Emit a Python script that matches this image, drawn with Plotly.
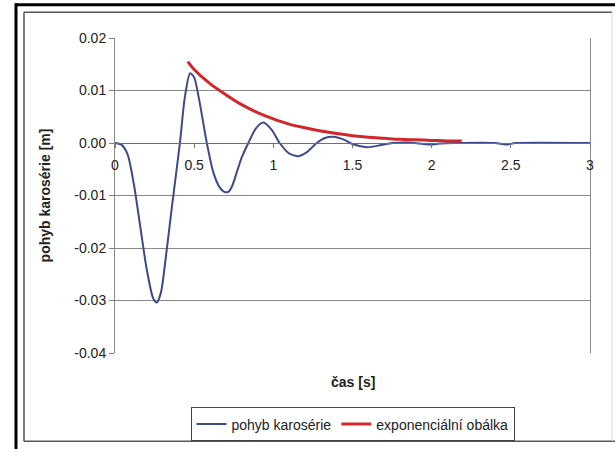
import plotly.graph_objects as go

# --- data ---
body_t = [0.0, 0.04, 0.08, 0.12, 0.16, 0.20, 0.24, 0.263, 0.29, 0.32, 0.36, 0.41, 0.44, 0.474,
          0.50, 0.53, 0.58, 0.62, 0.66, 0.69, 0.716, 0.74, 0.77, 0.80, 0.842, 0.89, 0.937, 0.99, 1.04,
          1.10, 1.158, 1.21, 1.274, 1.33, 1.379, 1.45, 1.50, 1.59, 1.68, 1.75, 1.85, 1.95,
          2.0, 2.05, 2.15, 2.40, 2.47, 2.53, 3.0]
body_y = [0.0, -0.0003, -0.0022, -0.0080, -0.0160, -0.0240, -0.0295, -0.0304, -0.0285, -0.0220,
          -0.0120, 0.0, 0.0085, 0.0133, 0.0125, 0.0085, 0.0, -0.0055, -0.0084, -0.0093, -0.0093,
          -0.0082, -0.0055, -0.0028, 0.0, 0.0028, 0.0039, 0.0025, 0.0, -0.0020, -0.0025, -0.0018,
          0.0, 0.0010, 0.0012, 0.0006, -0.0002, -0.0008, -0.0004, 0.0, 0.0001, -0.0002, -0.0003,
          -0.0001, 0.0, 0.0, -0.0003, 0.0, 0.0]

env_t = [0.46, 0.5, 0.6, 0.7, 0.8, 0.9, 1.0, 1.1, 1.2, 1.3, 1.4, 1.5, 1.6, 1.7, 1.8, 1.9, 2.0, 2.1, 2.19]
env_y = [0.0155, 0.0140, 0.0113, 0.0092, 0.0073, 0.0058, 0.0046, 0.0036, 0.0029, 0.0023, 0.0018,
         0.0014, 0.0011, 0.0009, 0.0007, 0.0006, 0.0005, 0.0004, 0.0004]

x_ticks = [0, 0.5, 1, 1.5, 2, 2.5, 3]
x_ticktext = ["0", "0.5", "1", "1.5", "2", "2.5", "3"]
y_ticks = [0.02, 0.01, 0.0, -0.01, -0.02, -0.03, -0.04]
y_ticktext = ["0.02", "0.01", "0.00", "-0.01", "-0.02", "-0.03", "-0.04"]

series_names = ["pohyb karosérie", "exponenciální obálka"]
x_title = "čas [s]"
y_title = "pohyb karosérie [m]"

# --- layout geometry (pixels) ---
W, H = 615, 453
L, R, T, B = 115, 590, 38, 356
FONT = "Liberation Sans, Arial, sans-serif"
FS = 14


def px_x(px):
    return (px - L) / (R - L)


def px_y(py):
    return (B - py) / (B - T)


fig = go.Figure()
fig.add_trace(go.Scatter(x=body_t, y=body_y, mode="lines", name=series_names[0],
                         line=dict(color="#3b4a8c", width=2, shape="spline", smoothing=0.7)))
fig.add_trace(go.Scatter(x=env_t, y=env_y, mode="lines", name=series_names[1],
                         line=dict(color="#d0282a", width=3, shape="spline")))

y0 = -0.04
y1 = 0.02
zero_pos = (0 - y0) / (y1 - y0)

shapes = [
    # inner frame
    dict(type="line", xref="paper", yref="paper", x0=px_x(24), x1=px_x(24), y0=px_y(445), y1=px_y(12),
         line=dict(color="#555555", width=1.5)),
    dict(type="line", xref="paper", yref="paper", x0=px_x(24), x1=px_x(612), y0=px_y(12), y1=px_y(12),
         line=dict(color="#555555", width=1.5)),
    dict(type="line", xref="paper", yref="paper", x0=px_x(24), x1=px_x(615), y0=px_y(445), y1=px_y(445),
         line=dict(color="#555555", width=1.5)),
    dict(type="line", xref="paper", yref="paper", x0=px_x(612), x1=px_x(612), y0=px_y(445), y1=px_y(12),
         line=dict(color="#d8d8d8", width=1)),
    # thick black outer lines (left and top)
    dict(type="line", xref="paper", yref="paper", x0=px_x(16), x1=px_x(16), y0=px_y(453), y1=px_y(3),
         line=dict(color="black", width=3)),
    dict(type="line", xref="paper", yref="paper", x0=px_x(15), x1=px_x(615), y0=px_y(4.5), y1=px_y(4.5),
         line=dict(color="black", width=3)),
]

fig.update_layout(
    width=W, height=H,
    margin=dict(l=L, r=W - R, t=T, b=H - B),
    paper_bgcolor="white", plot_bgcolor="white",
    font=dict(family=FONT, size=FS, color="#222222"),
    showlegend=True,
    legend=dict(orientation="h", xanchor="center", x=0.5, yanchor="top", y=px_y(411),
                bordercolor="#444444", borderwidth=1, bgcolor="white",
                font=dict(family=FONT, size=FS, color="#222222"),
                itemwidth=30, tracegroupgap=0),
    xaxis=dict(range=[0, 3], tickvals=x_ticks, ticktext=x_ticktext, showgrid=False, zeroline=False,
               anchor="free", position=zero_pos, showline=True, linecolor="#707070", linewidth=1,
               ticks="outside", ticklen=4, tickcolor="#707070", ticklabelstandoff=5,
               tickfont=dict(family=FONT, size=FS, color="#222222")),
    yaxis=dict(range=[y0, y1], tickvals=y_ticks, ticktext=y_ticktext, showgrid=True,
               gridcolor="#8a8a8a", gridwidth=1, zeroline=False, showline=True, mirror=True,
               linecolor="#8a8a8a", linewidth=1, ticks="outside", ticklen=5, tickcolor="#7f7f7f",
               tickfont=dict(family=FONT, size=FS, color="#222222"),
               title=dict(text="<b>" + y_title + "</b>", standoff=20,
                          font=dict(family=FONT, size=FS, color="#222222"))),
    shapes=shapes,
    annotations=[dict(text="<b>" + x_title + "</b>", xref="paper", yref="paper", x=0.5, y=px_y(385),
                      xanchor="center", yanchor="middle", showarrow=False,
                      font=dict(family=FONT, size=FS, color="#222222"))],
)

fig.write_html("out.html")
